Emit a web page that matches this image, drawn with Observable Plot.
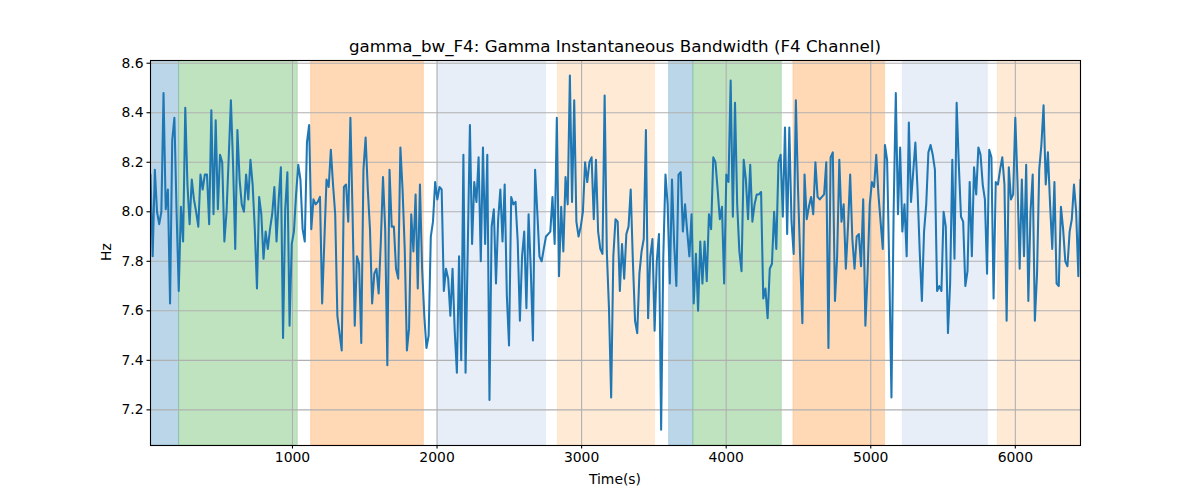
<!DOCTYPE html>
<html>
<head>
<meta charset="utf-8">
<script src="https://cdn.jsdelivr.net/npm/d3@7"></script>
<script src="https://cdn.jsdelivr.net/npm/@observablehq/plot@0.6"></script>
<style>
  html, body { margin: 0; padding: 0; background: white; }
  #wrap { position: relative; width: 1200px; height: 500px; font-family: "DejaVu Sans", sans-serif; }
  .lbl { position: absolute; color: black; white-space: nowrap; }
  #title { left: 0; width: 1230px; top: 36px; text-align: center; font-size: 16.7px; }
  #xlabel { left: 0; width: 1230px; top: 471px; text-align: center; font-size: 13.9px; }
  #ylabel { left: 106px; top: 252px; font-size: 13.9px; transform: translate(-50%, -50%) rotate(-90deg); }
</style>
</head>
<body>
<div id="wrap">
  <div id="chart"></div>
  <div class="lbl" id="title">gamma_bw_F4: Gamma Instantaneous Bandwidth (F4 Channel)</div>
  <div class="lbl" id="xlabel">Time(s)</div>
  <div class="lbl" id="ylabel">Hz</div>
</div>
<script>
// Time axis: first sample and sampling step (seconds)
const t0 = 18;
const dt = 15.03;

// Gamma instantaneous bandwidth values (Hz)
const values = [
8.15,7.82,8.17,8.0,7.95,8.0,8.48,8.01,8.09,7.63,
8.29,8.38,8.0,7.68,8.02,7.88,8.42,8.11,7.95,8.13,
8.05,8.0,7.94,8.15,8.09,8.15,8.15,7.95,8.41,7.99,
8.37,8.01,8.23,8.2,7.88,8.0,8.22,8.45,8.19,7.85,
8.33,8.13,8.03,8.0,8.15,8.05,8.21,8.11,7.93,7.69,
8.06,7.99,7.81,7.92,7.85,7.93,7.99,8.1,7.88,8.05,
8.18,7.49,8.01,8.16,7.54,7.87,7.92,8.07,8.19,8.13,
7.93,7.88,8.28,8.35,7.93,8.05,8.03,8.04,8.06,7.63,
7.88,8.13,8.1,8.25,8.11,7.99,7.58,7.51,7.44,8.1,
8.11,7.96,8.38,7.99,7.54,7.82,7.79,7.47,8.17,8.3,
8.09,7.93,7.63,7.75,7.77,7.67,7.88,8.14,7.93,7.38,
8.17,7.94,7.94,7.77,7.73,8.26,8.09,7.85,7.44,7.53,
7.99,7.84,8.07,7.69,8.11,7.77,7.58,7.45,7.5,7.9,
7.96,8.12,8.05,8.1,8.09,7.68,7.77,7.73,7.58,7.77,
7.52,7.35,7.82,7.4,8.23,7.35,7.85,8.35,7.87,8.12,
8.04,8.22,7.8,8.26,7.87,8.23,7.24,7.94,8.01,7.71,
7.97,8.09,7.88,8.11,7.66,7.46,8.06,8.03,8.04,7.88,
7.56,7.82,7.92,7.61,7.99,7.77,7.48,8.17,8.0,7.82,
7.8,7.85,7.9,7.91,7.92,8.06,7.87,8.38,7.74,8.02,
7.84,8.14,8.03,8.55,8.04,8.45,7.96,7.9,7.94,8.0,
8.2,8.12,8.2,8.22,7.97,8.21,7.92,7.85,7.83,8.47,
7.84,7.61,7.25,7.82,7.97,7.96,7.68,7.87,7.73,7.91,
7.94,8.09,7.8,7.56,7.51,7.75,7.84,7.89,8.33,7.57,
7.82,7.89,7.52,7.8,7.91,7.12,7.82,8.15,8.03,7.71,
8.13,7.87,7.7,8.15,8.16,7.92,8.03,7.92,7.82,7.99,
7.63,7.83,7.6,7.88,7.71,7.88,7.72,7.99,7.93,8.22,
8.2,8.09,7.97,8.02,7.71,8.15,8.12,8.53,7.98,8.44,
8.03,7.84,7.76,8.21,8.13,7.97,8.19,7.96,8.03,8.07,
8.07,8.08,7.65,7.69,7.57,7.77,7.79,8.0,7.85,8.2,
8.23,7.98,8.34,7.91,8.34,7.96,7.83,8.45,8.09,7.81,
7.55,8.15,7.97,8.02,8.06,7.99,8.2,8.06,8.05,8.06,
8.07,8.2,7.45,8.22,8.24,7.64,7.82,8.21,7.96,8.03,
7.77,7.94,8.15,7.89,7.77,7.9,7.91,7.78,8.05,7.54,
7.75,8.03,8.12,8.1,8.23,8.07,7.96,7.85,8.27,8.21,
7.77,7.25,8.0,8.48,7.99,8.26,7.92,8.03,7.82,8.36,
8.04,8.16,8.28,8.09,7.84,7.64,7.92,8.03,8.24,8.27,
8.23,8.17,7.68,7.7,7.68,8.0,7.94,7.51,7.71,8.21,
7.81,8.44,8.19,7.98,7.96,7.7,7.76,8.12,7.82,8.18,
8.07,8.26,8.23,8.11,8.05,7.75,8.25,8.22,7.65,8.12,
8.11,8.17,8.22,8.11,7.56,8.18,8.05,8.07,8.38,8.12,
7.77,8.13,7.82,8.19,7.64,8.0,8.15,7.56,7.75,8.17,
8.27,8.43,8.11,8.24,8.03,7.85,8.12,7.71,7.7,8.02,
7.93,7.8,7.78,7.92,7.97,8.11,8.0,7.74,8.13
];

// Shaded segments (start/end time and colour)
const regionStart = [18, 216, 1129, 2003, 2835, 3605, 3773, 4465, 5222, 5879];
const regionEnd   = [216, 1037, 1909, 2754, 3508, 3773, 4385, 5099, 5810, 6452];
const regionColor = ["#1f77b4", "#2ca02c", "#ff7f0e", "#aec7e8", "#ffbb78",
                     "#1f77b4", "#2ca02c", "#ff7f0e", "#aec7e8", "#ffbb78"];

// Tick values
const xTicks = [1000, 2000, 3000, 4000, 5000, 6000];
const yTicks = [7.2, 7.4, 7.6, 7.8, 8.0, 8.2, 8.4, 8.6];

const data = values.map((v, i) => ({ t: t0 + dt * i, v }));
const regions = regionStart.map((s, i) => ({ x1: s, x2: regionEnd[i], c: regionColor[i] }));
const tMax = t0 + dt * (values.length - 1);

const chart = Plot.plot({
  width: 1200,
  height: 500,
  marginLeft: 150,
  marginRight: 120,
  marginTop: 60,
  marginBottom: 55,
  style: { fontFamily: "DejaVu Sans, sans-serif", fontSize: "13.9px", color: "black", background: "white", overflow: "visible" },
  x: { domain: [t0, tMax], label: null },
  y: { domain: [7.056, 8.611], label: null },
  color: { type: "identity" },
  marks: [
    Plot.rect(regions, { x1: "x1", x2: "x2", fill: "c", fillOpacity: 0.3, stroke: "c", strokeOpacity: 0.2, strokeWidth: 1, clip: true }),
    Plot.gridX(xTicks, { stroke: "#b0b0b0", strokeOpacity: 1, strokeWidth: 1.1 }),
    Plot.gridY(yTicks, { stroke: "#b0b0b0", strokeOpacity: 1, strokeWidth: 1.1 }),
    Plot.line(data, { x: "t", y: "v", stroke: "#1f77b4", strokeWidth: 2.05, strokeLinejoin: "round", clip: true }),
    Plot.frame({ stroke: "black", strokeWidth: 1.1 }),
    Plot.axisX(xTicks, { tickSize: 3.5, tickPadding: 3.5, strokeWidth: 1.1, tickFormat: d3.format("d"), label: null, fontSize: 13.9 }),
    Plot.axisY(yTicks, { tickSize: 3.5, tickPadding: 3.5, strokeWidth: 1.1, tickFormat: d => d.toFixed(1), label: null, fontSize: 13.9 })
  ]
});
document.getElementById("chart").appendChild(chart);
</script>
</body>
</html>
